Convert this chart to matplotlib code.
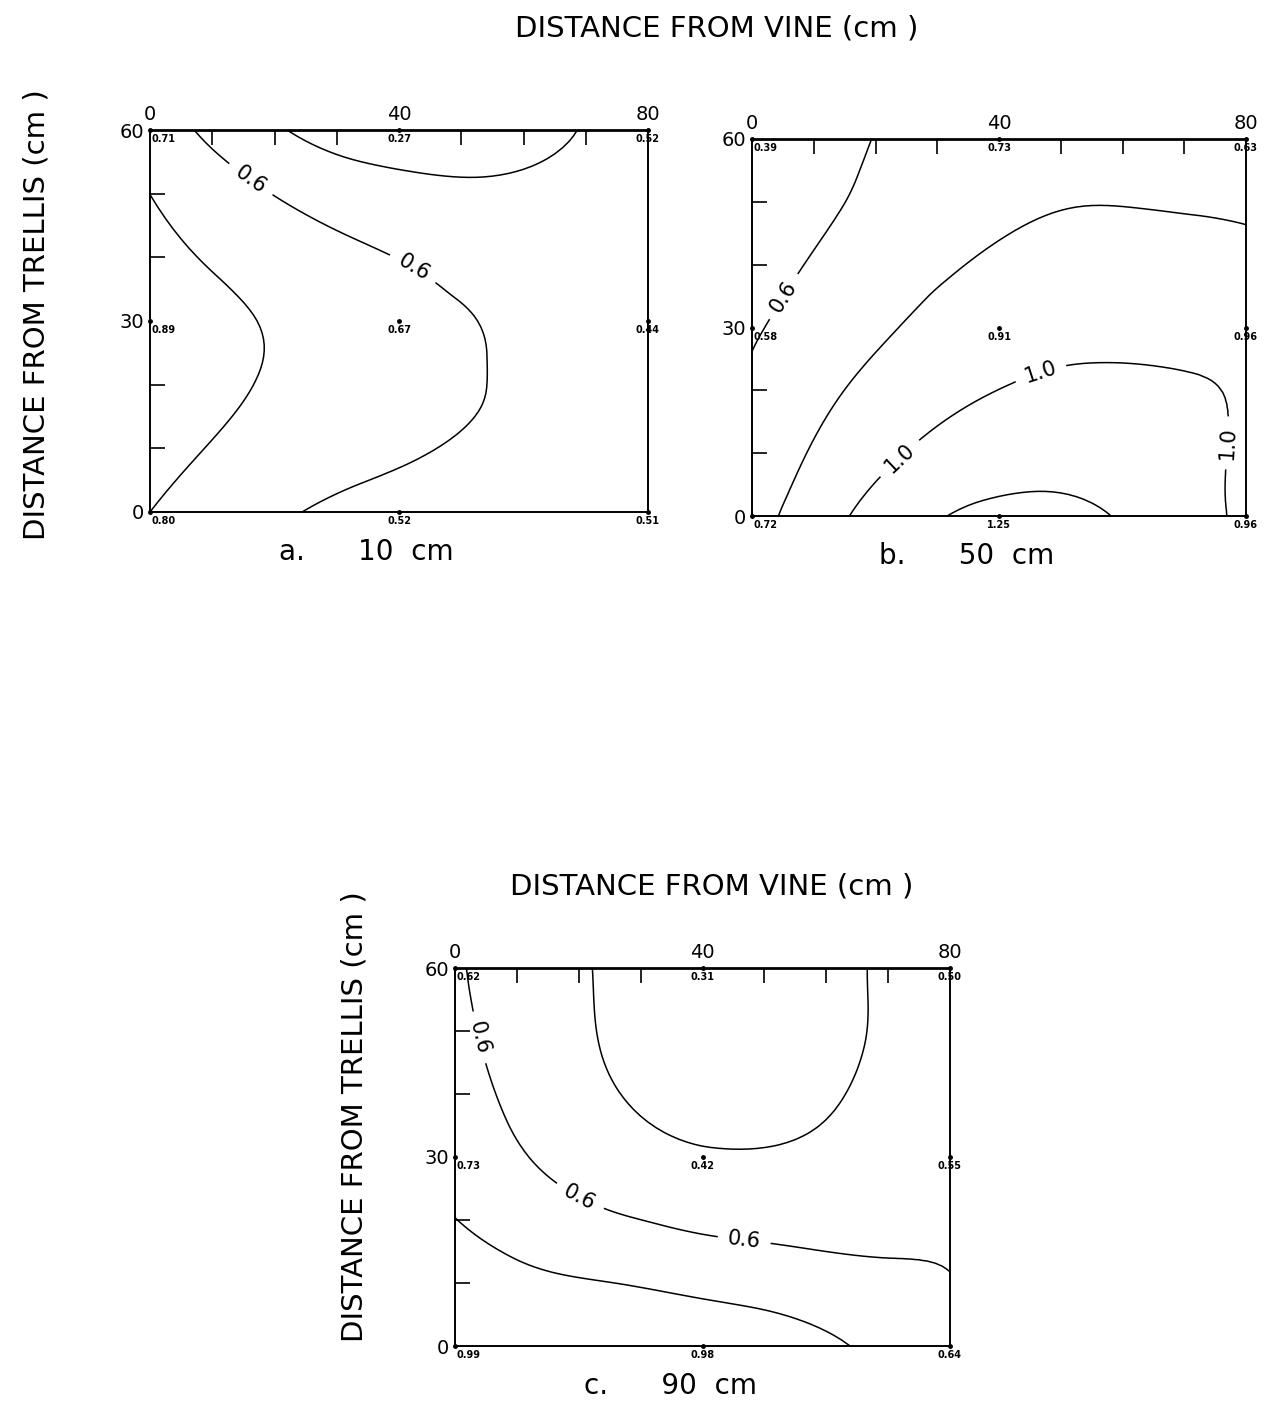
import matplotlib
matplotlib.use('Agg')
import matplotlib.pyplot as plt
import matplotlib.tri as mtri
import numpy as np

# grid of sampling points
x_pos = [0, 40, 80]     # distance from vine (cm)
y_pos = [0, 30, 60]     # distance from trellis (cm)

# rows are y = 0, 30, 60 ; columns are x = 0, 40, 80
depth_10 = [[0.80, 0.52, 0.51],
            [0.89, 0.67, 0.44],
            [0.71, 0.27, 0.52]]
depth_50 = [[0.72, 1.25, 0.96],
            [0.58, 0.91, 0.96],
            [0.39, 0.73, 0.63]]
depth_90 = [[0.99, 0.98, 0.64],
            [0.73, 0.42, 0.55],
            [0.62, 0.31, 0.50]]

levels_10 = [0.4, 0.6, 0.8]
levels_50 = [0.6, 0.8, 1.0, 1.2]
levels_90 = [0.4, 0.6, 0.8]

labelled_10 = [0.6]
labelled_50 = [0.6, 1.0]
labelled_90 = [0.6]

captions = ['a.      10  cm', 'b.      50  cm', 'c.      90  cm']

# point index = row * 3 + col ; diagonals of each cell meet at the centre point
cells = [[0, 4, 1], [0, 3, 4], [1, 4, 2], [2, 4, 5],
         [3, 6, 4], [4, 6, 7], [4, 8, 5], [4, 7, 8]]

fig = plt.figure(figsize=(12.65, 14.01), dpi=100)


def panel(rect, values, levels, labelled, label_pos, caption):
    ax = fig.add_axes(rect)
    X, Y = np.meshgrid(x_pos, y_pos)
    z = np.array(values).ravel()
    tri = mtri.Triangulation(X.ravel().astype(float), Y.ravel().astype(float), cells)
    interp = mtri.CubicTriInterpolator(tri, z, kind='min_E')
    refiner = mtri.UniformTriRefiner(tri)
    tri_f, z_f = refiner.refine_field(z, triinterpolator=interp, subdiv=5)

    plain = [lv for lv in levels if lv not in labelled]
    ax.tricontour(tri_f, z_f, levels=plain, colors='black', linewidths=1.1)
    cs = ax.tricontour(tri_f, z_f, levels=labelled, colors='black', linewidths=1.1)
    ax.clabel(cs, fmt='%.1f', fontsize=15, inline=True,
              inline_spacing=10, manual=label_pos)

    # sampling points and their values
    ax.plot(X.ravel(), Y.ravel(), 'o', color='black', ms=2.5, clip_on=False)
    for xv, yv, v in zip(X.ravel(), Y.ravel(), z):
        ax.annotate(f'{v:.2f}', (xv, yv), xytext=(1 if xv == 0 else 0, -3),
                    textcoords='offset points', ha='left' if xv == 0 else 'center',
                    va='top', fontsize=7, fontweight='bold')

    ax.set_xlim(0, 80)
    ax.set_ylim(0, 60)
    ax.xaxis.tick_top()
    ax.set_xticks([0, 40, 80])
    ax.set_yticks([0, 30, 60])
    ax.set_xticks([10, 20, 30, 50, 60, 70], minor=True)
    ax.set_yticks([10, 20, 40, 50], minor=True)
    ax.tick_params(which='major', length=0, labelsize=14, pad=4)
    ax.tick_params(which='minor', length=11, width=1.2, direction='in',
                   top=True, bottom=False, left=True, right=False)
    for s in ax.spines.values():
        s.set_linewidth(1.4)
    ax.spines['top'].set_linewidth(2)
    ax.text(0.435, -0.105, caption, transform=ax.transAxes, ha='center',
            va='center', fontsize=20)
    return ax


panel([150 / 1265, 1 - 512 / 1401, 498 / 1265, 382 / 1401], depth_10, levels_10,
      labelled_10, [(16, 52), (39, 33)], captions[0])
panel([752 / 1265, 1 - 516 / 1401, 494 / 1265, 377 / 1401], depth_50, levels_50,
      labelled_50, [(5, 35), (47, 22), (25, 8), (72, 12)], captions[1])
panel([455 / 1265, 1 - 1346 / 1401, 495 / 1265, 378 / 1401], depth_90, levels_90,
      labelled_90, [(4, 49), (22, 27), (47, 19)], captions[2])

fig.text(717 / 1265, 1 - 28 / 1401, 'DISTANCE FROM VINE (cm )', ha='center',
         va='center', fontsize=21)
fig.text(712 / 1265, 1 - 886 / 1401, 'DISTANCE FROM VINE (cm )', ha='center',
         va='center', fontsize=21)
fig.text(37 / 1265, 1 - 315 / 1401, 'DISTANCE FROM TRELLIS (cm )', ha='center',
         va='center', rotation=90, fontsize=21)
fig.text(355 / 1265, 1 - 1117 / 1401, 'DISTANCE FROM TRELLIS (cm )', ha='center',
         va='center', rotation=90, fontsize=21)

fig.savefig('out.png', dpi=100)
